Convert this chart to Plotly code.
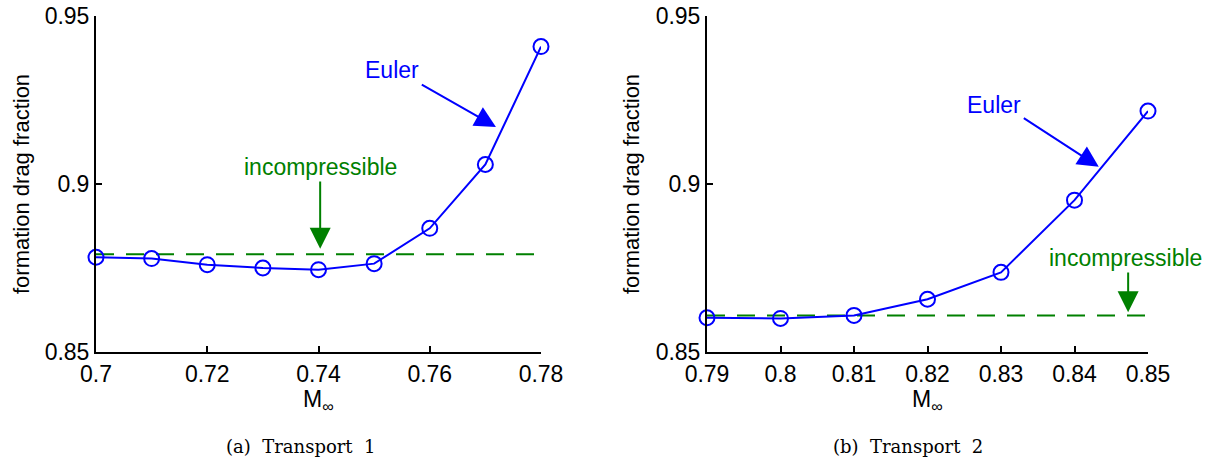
import plotly.graph_objects as go

# Transport 1: Mach sweep and formation drag fraction
mach_t1 = [0.70, 0.71, 0.72, 0.73, 0.74, 0.75, 0.76, 0.77, 0.78]
euler_t1 = [0.8782, 0.8778, 0.8760, 0.8750, 0.8745, 0.8763, 0.8868, 0.9058, 0.9409]
incomp_t1 = 0.8791

# Transport 2
mach_t2 = [0.79, 0.80, 0.81, 0.82, 0.83, 0.84, 0.85]
euler_t2 = [0.8602, 0.8600, 0.8609, 0.8657, 0.8737, 0.8952, 0.9217]
incomp_t2 = 0.8609

xticks_t1 = [0.70, 0.72, 0.74, 0.76, 0.78]
xticklabels_t1 = ["0.7", "0.72", "0.74", "0.76", "0.78"]
xticks_t2 = [0.79, 0.80, 0.81, 0.82, 0.83, 0.84, 0.85]
xticklabels_t2 = ["0.79", "0.8", "0.81", "0.82", "0.83", "0.84", "0.85"]
yticks = [0.85, 0.90, 0.95]
yticklabels = ["0.85", "0.9", "0.95"]

BLUE = "rgb(0,0,255)"
GREEN = "rgb(0,128,0)"
SANS = "Liberation Sans, Arial, sans-serif"
SERIF = "DejaVu Serif, serif"

fig = go.Figure()

for mach, euler, incomp, xa, ya in [
    (mach_t1, euler_t1, incomp_t1, "x", "y"),
    (mach_t2, euler_t2, incomp_t2, "x2", "y2"),
]:
    fig.add_trace(go.Scatter(
        x=[mach[0], mach[-1]], y=[incomp, incomp], mode="lines",
        line=dict(color=GREEN, width=2, dash="18px,12px"),
        xaxis=xa, yaxis=ya, showlegend=False, cliponaxis=False,
    ))
    fig.add_trace(go.Scatter(
        x=mach, y=euler, mode="lines+markers",
        line=dict(color=BLUE, width=2),
        marker=dict(symbol="circle-open", size=15, color=BLUE, line=dict(width=2)),
        xaxis=xa, yaxis=ya, showlegend=False, cliponaxis=False,
    ))

axis_common = dict(
    showline=True, linecolor="black", linewidth=2, mirror=False,
    ticks="inside", ticklen=6, tickwidth=1.5, tickcolor="black",
    showgrid=False, zeroline=False, automargin=False,
    tickfont=dict(family=SANS, size=23, color="black"),
)

ydom = [1 - 352 / 464, 1 - 16 / 464]
fig.update_layout(
    width=1211, height=464,
    margin=dict(l=0, r=0, t=0, b=0),
    paper_bgcolor="white", plot_bgcolor="white",
    xaxis=dict(domain=[96 / 1211, 541 / 1211], range=[0.70, 0.78],
               tickvals=xticks_t1, ticktext=xticklabels_t1, anchor="y", **axis_common),
    yaxis=dict(domain=ydom, range=[0.85, 0.95],
               tickvals=yticks, ticktext=yticklabels, anchor="x", **axis_common),
    xaxis2=dict(domain=[707 / 1211, 1148 / 1211], range=[0.79, 0.85],
                tickvals=xticks_t2, ticktext=xticklabels_t2, anchor="y2", **axis_common),
    yaxis2=dict(domain=ydom, range=[0.85, 0.95],
                tickvals=yticks, ticktext=yticklabels, anchor="x2", **axis_common),
)

annotations = []

# axis titles and captions
for xc, ytitle_x in [((96 + 541) / 2 / 1211, 21 / 1211), ((707 + 1148) / 2 / 1211, 631 / 1211)]:
    annotations.append(dict(
        x=xc, y=1 - 384 / 464, xref="paper", yref="paper",
        xanchor="center", yanchor="top",
        text="M<sub>∞</sub>", showarrow=False,
        font=dict(family=SANS, size=23, color="black"),
    ))
    annotations.append(dict(
        x=ytitle_x, y=1 - 184 / 464, xref="paper", yref="paper",
        xanchor="center", yanchor="middle",
        text="formation drag fraction", textangle=-90, showarrow=False,
        font=dict(family=SANS, size=22, color="black"),
    ))
annotations.append(dict(x=300 / 1211, y=1 - 446 / 464, xref="paper", yref="paper",
                        xanchor="center", yanchor="middle",
                        text="(a)  Transport  1", showarrow=False,
                        font=dict(family=SERIF, size=18, color="black")))
annotations.append(dict(x=908 / 1211, y=1 - 446 / 464, xref="paper", yref="paper",
                        xanchor="center", yanchor="middle",
                        text="(b)  Transport  2", showarrow=False,
                        font=dict(family=SERIF, size=18, color="black")))

# callouts: left panel
annotations += [
    dict(x=0.7532, y=0.9340, xref="x", yref="y", text="Euler", showarrow=False,
         font=dict(family=SANS, size=23, color=BLUE)),
    dict(x=0.7719, y=0.9170, ax=0.7583, ay=0.9298, xref="x", yref="y", axref="x", ayref="y",
         text="", showarrow=True, arrowhead=2, arrowsize=2.1, arrowwidth=2, arrowcolor=BLUE),
    dict(x=0.7403, y=0.9050, xref="x", yref="y", text="incompressible", showarrow=False,
         font=dict(family=SANS, size=23, color=GREEN)),
    dict(x=0.7403, y=0.8807, ax=0.7403, ay=0.9012, xref="x", yref="y", axref="x", ayref="y",
         text="", showarrow=True, arrowhead=2, arrowsize=2.1, arrowwidth=2, arrowcolor=GREEN),
]
# callouts: right panel
annotations += [
    dict(x=0.8290, y=0.9235, xref="x2", yref="y2", text="Euler", showarrow=False,
         font=dict(family=SANS, size=23, color=BLUE)),
    dict(x=0.8433, y=0.9051, ax=0.8329, ay=0.9199, xref="x2", yref="y2", axref="x2", ayref="y2",
         text="", showarrow=True, arrowhead=2, arrowsize=2.1, arrowwidth=2, arrowcolor=BLUE),
    dict(x=0.8469, y=0.8780, xref="x2", yref="y2", text="incompressible", showarrow=False,
         font=dict(family=SANS, size=23, color=GREEN)),
    dict(x=0.8473, y=0.8618, ax=0.8473, ay=0.8741, xref="x2", yref="y2", axref="x2", ayref="y2",
         text="", showarrow=True, arrowhead=2, arrowsize=2.1, arrowwidth=2, arrowcolor=GREEN),
]
fig.update_layout(annotations=annotations)

fig.write_html("out.html")
